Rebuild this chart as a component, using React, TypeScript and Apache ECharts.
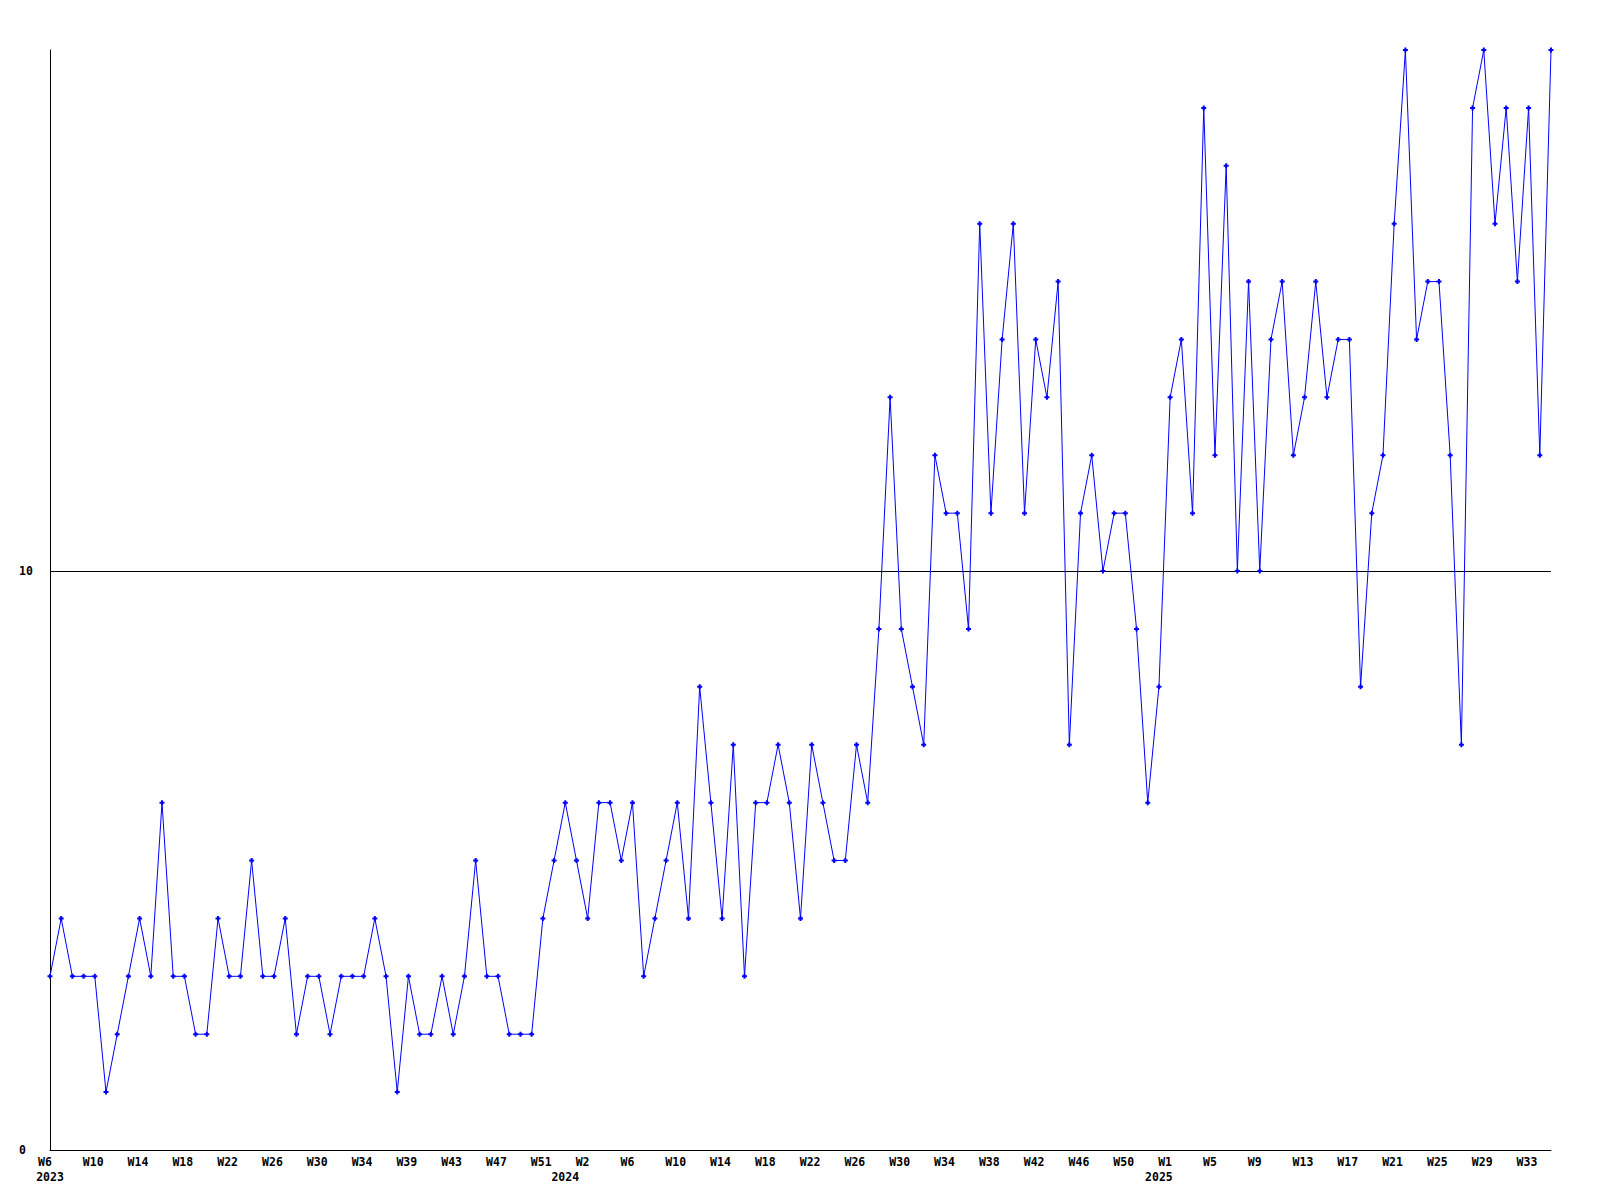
import React, { useEffect, useRef } from "react";
import * as echarts from "echarts";

// weekly values, one per point (W6 2023 .. W35 2025)
const values: number[] = [
  3, 4, 3, 3, 3, 1, 2, 3, 4, 3,
  6, 3, 3, 2, 2, 4, 3, 3, 5, 3,
  3, 4, 2, 3, 3, 2, 3, 3, 3, 4,
  3, 1, 3, 2, 2, 3, 2, 3, 5, 3,
  3, 2, 2, 2, 4, 5, 6, 5, 4, 6,
  6, 5, 6, 3, 4, 5, 6, 4, 8, 6,
  4, 7, 3, 6, 6, 7, 6, 4, 7, 6,
  5, 5, 7, 6, 9, 13, 9, 8, 7, 12,
  11, 11, 9, 16, 11, 14, 16, 11, 14, 13,
  15, 7, 11, 12, 10, 11, 11, 9, 6, 8,
  13, 14, 11, 18, 12, 17, 10, 15, 10, 14,
  15, 12, 13, 15, 13, 14, 14, 8, 11, 12,
  16, 19, 14, 15, 15, 12, 7, 18, 19, 16,
  18, 15, 18, 12, 19,
];

// week tick labels, shown at every 4th point
const tickLabels: string[] = [
  "W6", "W10", "W14", "W18", "W22", "W26", "W30", "W34", "W39", "W43", "W47", "W51",
  "W2", "W6", "W10", "W14", "W18", "W22", "W26", "W30", "W34", "W38", "W42", "W46", "W50",
  "W1", "W5", "W9", "W13", "W17", "W21", "W25", "W29", "W33",
];
const tickStep = 4;

// year labels and the point index they sit under
const yearLabels: string[] = ["2023", "2024", "2025"];
const yearIndex: number[] = [0, 46, 99];

const yTicks: number[] = [0, 10];

const categories: string[] = values.map((_, i) => String(i));

const FONT = "DejaVu Sans Mono";
const FS = 11.5;

export default function App() {
  const ref = useRef<HTMLDivElement>(null);
  useEffect(() => {
    if (!ref.current) return;
    const chart = echarts.init(ref.current, null, { renderer: "svg" });
    chart.setOption({
      animation: false,
      backgroundColor: "#ffffff",
      grid: { left: 50, right: 49, top: 50, bottom: 50, containLabel: false },
      xAxis: [
        {
          type: "category",
          data: categories,
          boundaryGap: false,
          position: "bottom",
          axisLine: { show: true, lineStyle: { color: "#000", width: 1 } },
          axisTick: { show: false },
          splitLine: { show: false },
          axisLabel: {
            interval: (i: number) => i % tickStep === 0 && i / tickStep < tickLabels.length,
            formatter: (v: string) => {
              const i = Number(v);
              return "{w|" + (tickLabels[i / tickStep] ?? "") + "}";
            },
            margin: 6,
            align: "center",
            rich: {
              w: {
                width: 24,
                align: "left",
                fontFamily: FONT,
                fontWeight: "bold",
                fontSize: FS,
                color: "#000",
              },
            },
          },
        },
        {
          type: "category",
          data: categories,
          boundaryGap: false,
          position: "bottom",
          offset: 0,
          axisLine: { show: false },
          axisTick: { show: false },
          splitLine: { show: false },
          axisLabel: {
            interval: (i: number) => yearIndex.indexOf(i) >= 0,
            formatter: (v: string) => {
              const k = yearIndex.indexOf(Number(v));
              return k >= 0 ? yearLabels[k] : "";
            },
            margin: 21,
            fontFamily: FONT,
            fontWeight: "bold",
            fontSize: FS,
            color: "#000",
          },
        },
      ],
      yAxis: {
        type: "value",
        min: 0,
        max: 19,
        interval: 10,
        axisLine: { show: true, lineStyle: { color: "#000", width: 1 } },
        axisTick: { show: false },
        splitLine: {
          show: true,
          lineStyle: { color: ["rgba(0,0,0,0)", "#000", "rgba(0,0,0,0)"], width: 1 },
        },
        axisLabel: {
          formatter: (v: number) => (yTicks.indexOf(v) >= 0 ? String(v) : ""),
          align: "left",
          margin: 31,
          fontFamily: FONT,
          fontWeight: "bold",
          fontSize: FS,
          color: "#000",
        },
      },
      series: [
        {
          type: "line",
          xAxisIndex: 0,
          data: values,
          smooth: false,
          symbol: "path://M1.5,0H3.5V1.5H5V3.5H3.5V5H1.5V3.5H0V1.5H1.5Z",
          symbolSize: 5,
          showAllSymbol: true,
          lineStyle: { color: "#0000ff", width: 1 },
          itemStyle: { color: "#0000ff" },
          emphasis: { disabled: true },
        },
      ],
    });
    return () => chart.dispose();
  }, []);
  return (
    <div
      ref={ref}
      style={{ position: "absolute", left: 0, top: 0, width: 1600, height: 1200, background: "#fff" }}
    />
  );
}
